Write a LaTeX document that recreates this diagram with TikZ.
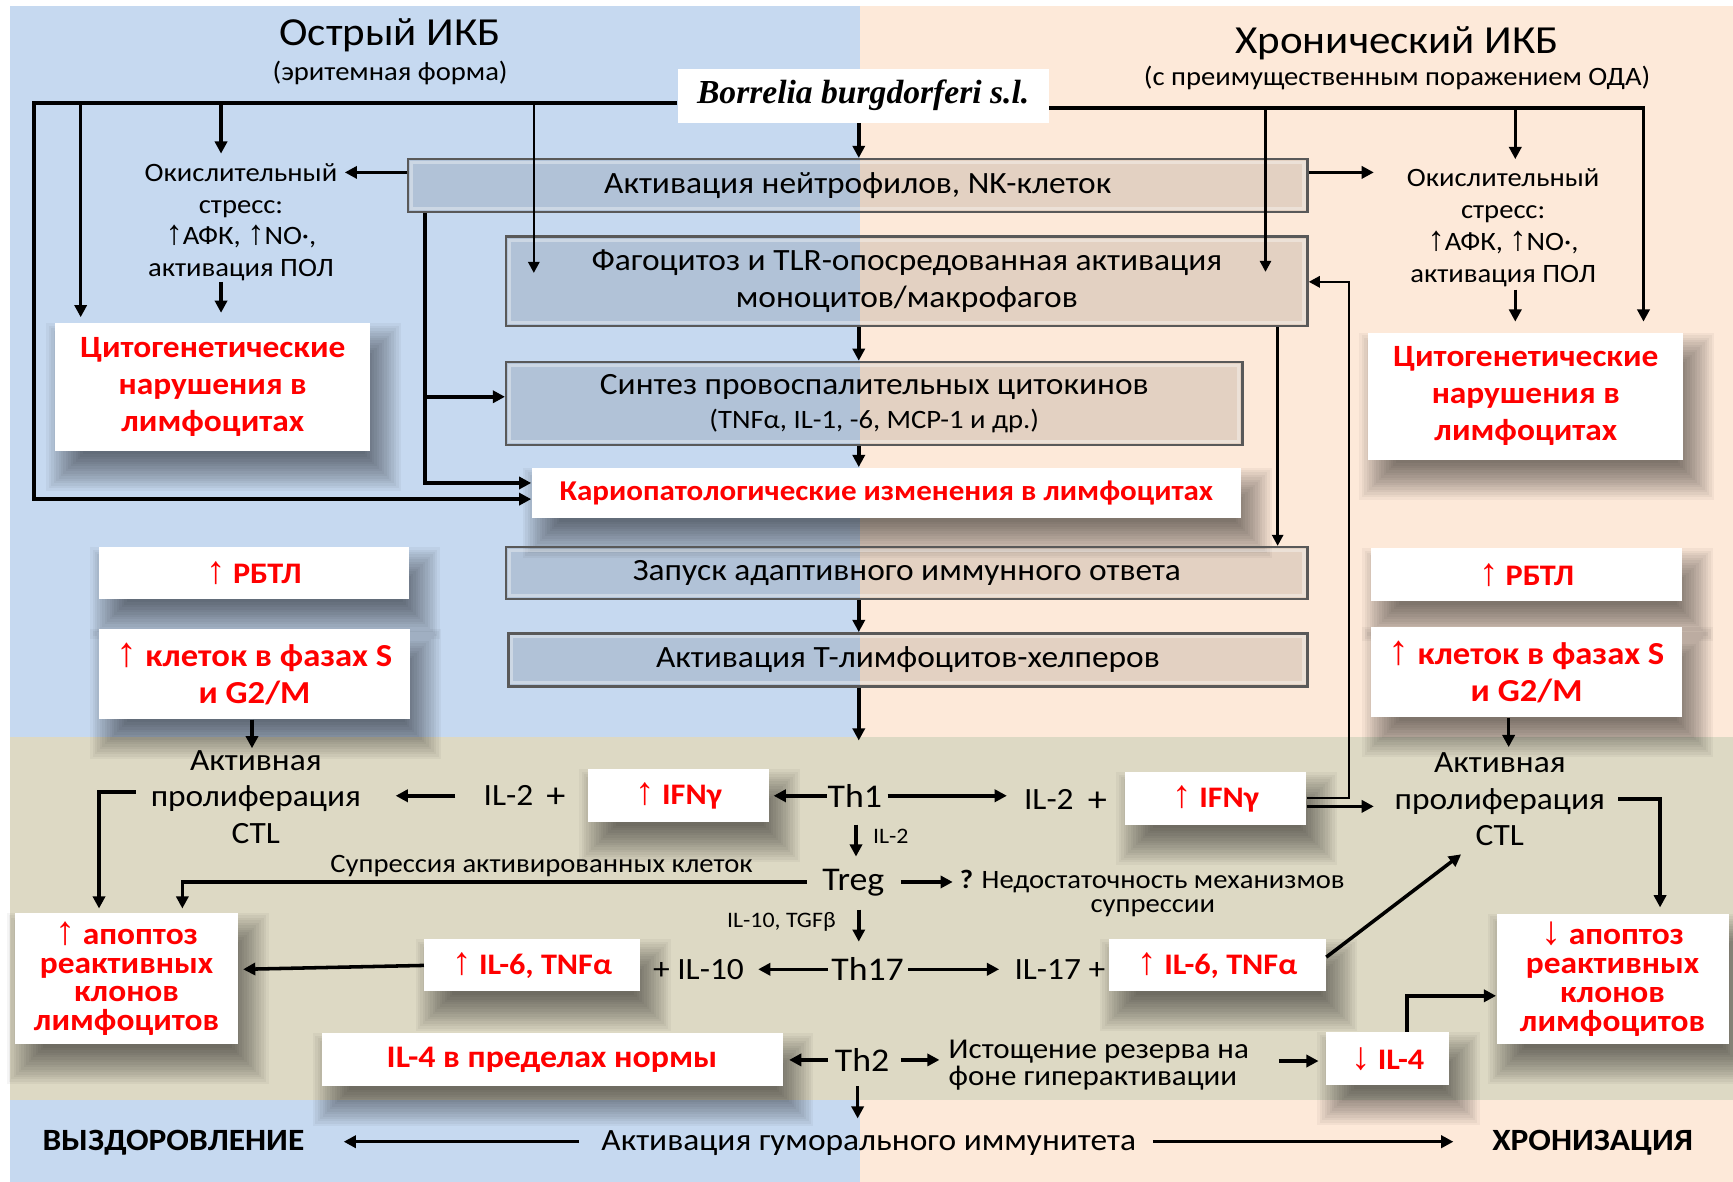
\documentclass[tikz,border=0pt]{standalone}
\usepackage{fontspec}
\setmainfont[FakeStretch=1.08]{Carlito}
\newfontfamily\borfont{Liberation Serif}
\newfontfamily\arrfont[Scale=1.3]{Liberation Sans}
\newcommand\upa{{\arrfont ↑}}
\newcommand\dna{{\arrfont ↓}}
\newcommand\fT{\fontsize{18}{20}\selectfont}
\newcommand\fS{\fontsize{12}{15}\selectfont}
\newcommand\fM{\fontsize{14}{16.5}\selectfont}
\newcommand\fR{\bfseries\fontsize{13.5}{16.75}\selectfont}
\newcommand\fX{\fontsize{10}{12}\selectfont}
\usetikzlibrary{arrows.meta}
\definecolor{bluebg}{RGB}{198,217,240}
\definecolor{peachbg}{RGB}{253,233,217}
\definecolor{khaki}{RGB}{221,217,196}
% soft shadow under a box given by its corners (picture units)
\newcommand\softshadow[4]{%
  \foreach \i in {0,...,15}{%
    \fill[black,opacity=0.04] ({#1+10-18+\i*2.2},{#2+18-18+\i*2.2}) rectangle ({#3+10+18-\i*2.2},{#4+18+18-\i*2.2});
  }}
% white box with shadow: [options]{name}{x1}{y1}{x2}{y2}{text}
\newcommand\wnode[7][]{\softshadow{#3}{#4}{#5}{#6}\node[wbox,rect={#3}{#4}{#5}{#6},#1] (#2) {#7};}
\begin{document}
\begin{tikzpicture}[x=0.5pt,y=-0.5pt,
  arr/.style={line width=1.6pt,-{Triangle[length=5.5pt,width=5.5pt]}},
  tarr/.style={line width=1.2pt,-{Triangle[length=5pt,width=5pt]}},
  rect/.style n args={4}{at={({(#1+#3)/2},{(#2+#4)/2})},minimum width={(#3-#1)*0.5pt},minimum height={(#4-#2)*0.5pt}},
  gbox/.style={draw=black!65,line width=1.1pt,fill=black,fill opacity=0.1,text opacity=1,inner sep=0pt,align=center,font=\fM,
    path picture={\draw[white,opacity=0.35,line width=1.4pt] ([xshift=1.6pt,yshift=-1.6pt]path picture bounding box.north west) rectangle ([xshift=-1.6pt,yshift=1.6pt]path picture bounding box.south east);}},
  wbox/.style={fill=white,inner sep=0pt,align=center,text=red,font=\fR},
  txt/.style={inner sep=0pt,align=center,font=\fM},
]
\useasboundingbox (0,0) rectangle (1568,1069);
% backgrounds
\fill[white] (0,0) rectangle (1568,1069);
\fill[bluebg] (9,5.5) rectangle (778,667);
\fill[peachbg] (778,5.5) rectangle (1568,667);
\fill[khaki] (9,667) rectangle (1568,995);
\fill[bluebg] (9,995) rectangle (778,1069);
\fill[peachbg] (778,995) rectangle (1568,1069);

% titles
\node[txt,font=\fT] (titA) at (353,32) {Острый ИКБ};
\node[txt,font=\fS] (subA) at (353,66) {(эритемная форма)};
\node[txt,font=\fT] (titC) at (1264,39) {Хронический ИКБ};
\node[txt,font=\fS] (subC) at (1264,71) {(с преимущественным поражением ОДА)};

% Borrelia
\node[fill=white,inner sep=0pt,rect={613}{62}{949}{111},font=\borfont\bfseries\itshape\fontsize{15.2}{17}\selectfont] (bor) {Borrelia burgdorferi s.l.};

% central boxes
\node[gbox,rect={369}{144}{1183}{192}] (neut) {Активация нейтрофилов, NK-клеток};
\node[gbox,rect={458}{214}{1183}{295}] (fag) {Фагоцитоз и TLR-опосредованная активация\\моноцитов/макрофагов};
\node[gbox,rect={458}{327.5}{1124}{402.5}] (syn) {Синтез провоспалительных цитокинов\\[-1pt]{\fS (TNFα, IL-1, -6, MCP-1 и др.)}};
\wnode[font=\bfseries\fontsize{13}{15}\selectfont]{karyo}{481}{423}{1123}{469}{Кариопатологические изменения в лимфоцитах}
\node[gbox,rect={458}{495}{1183}{542}] (adapt) {Запуск адаптивного иммунного ответа};
\node[gbox,rect={460}{573}{1183}{621}] (helper) {Активация Т-лимфоцитов-хелперов};

% left column
\node[txt,font=\fontsize{12}{14.4}\selectfont] (oxL) at (218,201) {Окислительный\\стресс:\\\upa АФК, \upa NO·,\\активация ПОЛ};
\wnode[font=\bfseries\fontsize{14}{16.75}\selectfont]{cytL}{50}{292.6}{335}{408}{Цитогенетические\\нарушения в\\лимфоцитах}
\wnode{rbtlL}{89.5}{495}{370}{542}{\upa\ РБТЛ}
\wnode[font=\bfseries\fontsize{14.5}{16.5}\selectfont]{clL}{89.5}{569}{371}{650.7}{\upa\ клеток в фазах S\\и G2/M}

% right column
\node[txt,font=\fontsize{12}{14.4}\selectfont] (oxR) at (1360,206) {Окислительный\\стресс:\\\upa АФК, \upa NO·,\\активация ПОЛ};
\wnode[font=\bfseries\fontsize{14}{16.75}\selectfont]{cytR}{1238}{301}{1523}{416}{Цитогенетические\\нарушения в\\лимфоцитах}
\wnode{rbtlR}{1240.5}{496}{1522}{544}{\upa\ РБТЛ}
\wnode[font=\bfseries\fontsize{14.5}{16.5}\selectfont]{clR}{1240.5}{567}{1522}{649}{\upa\ клеток в фазах S\\и G2/M}

% middle band
\node[txt] (ctlL) at (231.5,721) {Активная\\пролиферация\\CTL};
\node[txt] (ctlR) at (1357,723.5) {Активная\\пролиферация\\CTL};
\node[txt] (il2L) at (460,720) {IL-2};
\node[txt,font=\fontsize{16}{18}\selectfont] (plusL) at (503,722) {+};
\wnode{ifnL}{532}{696}{696}{744}{\upa\ IFNγ}
\node[txt,font=\fontsize{15}{18}\selectfont] (th1) at (773.5,720) {Th1};
\node[txt] (il2R) at (949,723) {IL-2};
\node[txt,font=\fontsize{16}{18}\selectfont] (plusR) at (993,725) {+};
\wnode{ifnR}{1018}{698.6}{1182}{746.5}{\upa\ IFNγ}
\node[txt,font=\fX] (il2s) at (806,757) {IL-2};
\node[txt,font=\fontsize{15}{18}\selectfont] (treg) at (772,799) {Treg};
\node[txt,font=\fontsize{12}{15}\selectfont] (supp) at (490,784) {Супрессия активированных клеток};
\node[txt,font=\fontsize{12}{12}\selectfont,anchor=west] (ned) at (868,798) {\textbf{?} Недостаточность механизмов};
\node[txt,font=\fontsize{12}{12}\selectfont] (ned2) at (1043,822) {супрессии};
\node[txt,font=\fX] (il10t) at (707,834) {IL-10, TGFβ};
\node[txt,font=\fontsize{15}{18}\selectfont] (th17) at (785,877) {Th17};
\node[txt] (pil10) at (632,877) {+ IL-10};
\wnode{il6L}{384}{850}{579}{897}{\upa\ IL-6, TNFα}
\wnode[font=\bfseries\fontsize{14}{13}\selectfont]{apoL}{14}{826}{215}{945}{\upa\ апоптоз\\реактивных\\клонов\\лимфоцитов}
\node[txt] (il17) at (959,877) {IL-17 +};
\wnode{il6R}{1003}{850}{1200}{897}{\upa\ IL-6, TNFα}
\wnode[font=\bfseries\fontsize{14}{13}\selectfont]{apoR}{1354}{827}{1564}{945}{\dna\ апоптоз\\реактивных\\клонов\\лимфоцитов}
\node[txt,font=\fontsize{15}{18}\selectfont] (th2) at (780,959) {Th2};
\wnode[font=\bfseries\fontsize{14.2}{16}\selectfont]{il4L}{291}{935}{708}{983}{IL-4 в пределах нормы}
\node[txt,font=\fontsize{13}{12}\selectfont,align=left,anchor=west] (ist) at (858,963.5) {Истощение резерва на\\фоне гиперактивации};
\wnode{il4R}{1200}{934}{1311}{982}{\dna\ IL-4}

% bottom band
\node[txt,font=\bfseries\fontsize{14}{17}\selectfont] (recov) at (157,1034) {ВЫЗДОРОВЛЕНИЕ};
\node[txt] (humor) at (786,1034) {Активация гуморального иммунитета};
\node[txt,font=\bfseries\fontsize{14}{17}\selectfont] (chron) at (1441,1034) {ХРОНИЗАЦИЯ};

% ---- connectors, top part
\draw[arr] ([yshift=-3.25pt]bor.west) -| (31,451.6) -- (karyo.west |- 0,451.6);
\draw[arr] (73,93) -- (73,287);
\draw[arr] (200,93) -- (200,139);
\draw[arr] (200,255) -- (200,283);
\draw[tarr] (483,93) -- (483,247);
\draw[arr] (neut.west |- 0,156) -- (312,156);
\draw[arr] (384.6,0 |- neut.south) |- (karyo.west |- 0,437);
\draw[arr] (384.6,359) -- (syn.west |- 0,359);
\draw[arr] (bor.south -| 777,0) -- (neut.north -| 777,0);
\draw[arr] ([yshift=-5.5pt]bor.east) -| (1487,291);
\draw[tarr] (1145,97.6) -- (1145,246);
\draw[arr] (1371,97.6) -- (1371,144);
\draw[arr] (neut.east |- 0,156) -- (1243,156);
\draw[arr] (1371,262) -- (1371,291);
\draw[arr] (fag.south -| 777,0) -- (syn.north -| 777,0);
\draw[arr] (syn.south -| 777,0) -- (karyo.north -| 777,0);
\draw[tarr] (fag.south -| 1156,0) -- (adapt.north -| 1156,0);
\draw[arr] (adapt.south -| 777,0) -- (helper.north -| 777,0);
\draw[arr] (helper.south -| 777,0) -- (777,670);
\draw[tarr] (ifnR.east |- 0,722) -| (1220.6,255) -- (fag.east |- 0,255);
\draw[arr] (ifnR.east |- 0,729.6) -- (1243,729.6);

% ---- connectors, middle band
\draw[arr] (clL.south -| 228,0) -- (228,677);
\draw[arr] (clR.south -| 1365,0) -- (1365,676);
\draw[arr] (123,716.5) -| (89.6,822);
\draw[arr] (1464,723) -| (1502,821);
\draw[arr] (412,720) -- (358,720);
\draw[arr] (748,720) -- (700,720);
\draw[arr] (803,720) -- (911,720);
\draw[arr] (774.5,746) -- (774.5,775);
\draw[arr] (730,798) -| (165,822);
\draw[arr] (815,798) -- (862,798);
\draw[arr] (777,823) -- (777,852);
\draw[arr] (749,877) -- (686,877);
\draw[arr] (il6L.west) -- (220,877);
\draw[arr] (821.6,877) -- (904,877);
\draw[arr] (1200,866) -- (1322,773);
\draw[arr] (749,959) -- (714,959);
\draw[arr] (815,959) -- (850,959);
\draw[arr] (1157,960) -- (1193,960);
\draw[arr] (il4R.north -| 1273,0) |- (apoR.west |- 0,901);
\draw[arr] (776,983) -- (776,1012);

% ---- bottom band
\draw[arr] (524,1033) -- (311,1033);
\draw[arr] (1043,1033) -- (1315,1033);
\end{tikzpicture}
\end{document}
